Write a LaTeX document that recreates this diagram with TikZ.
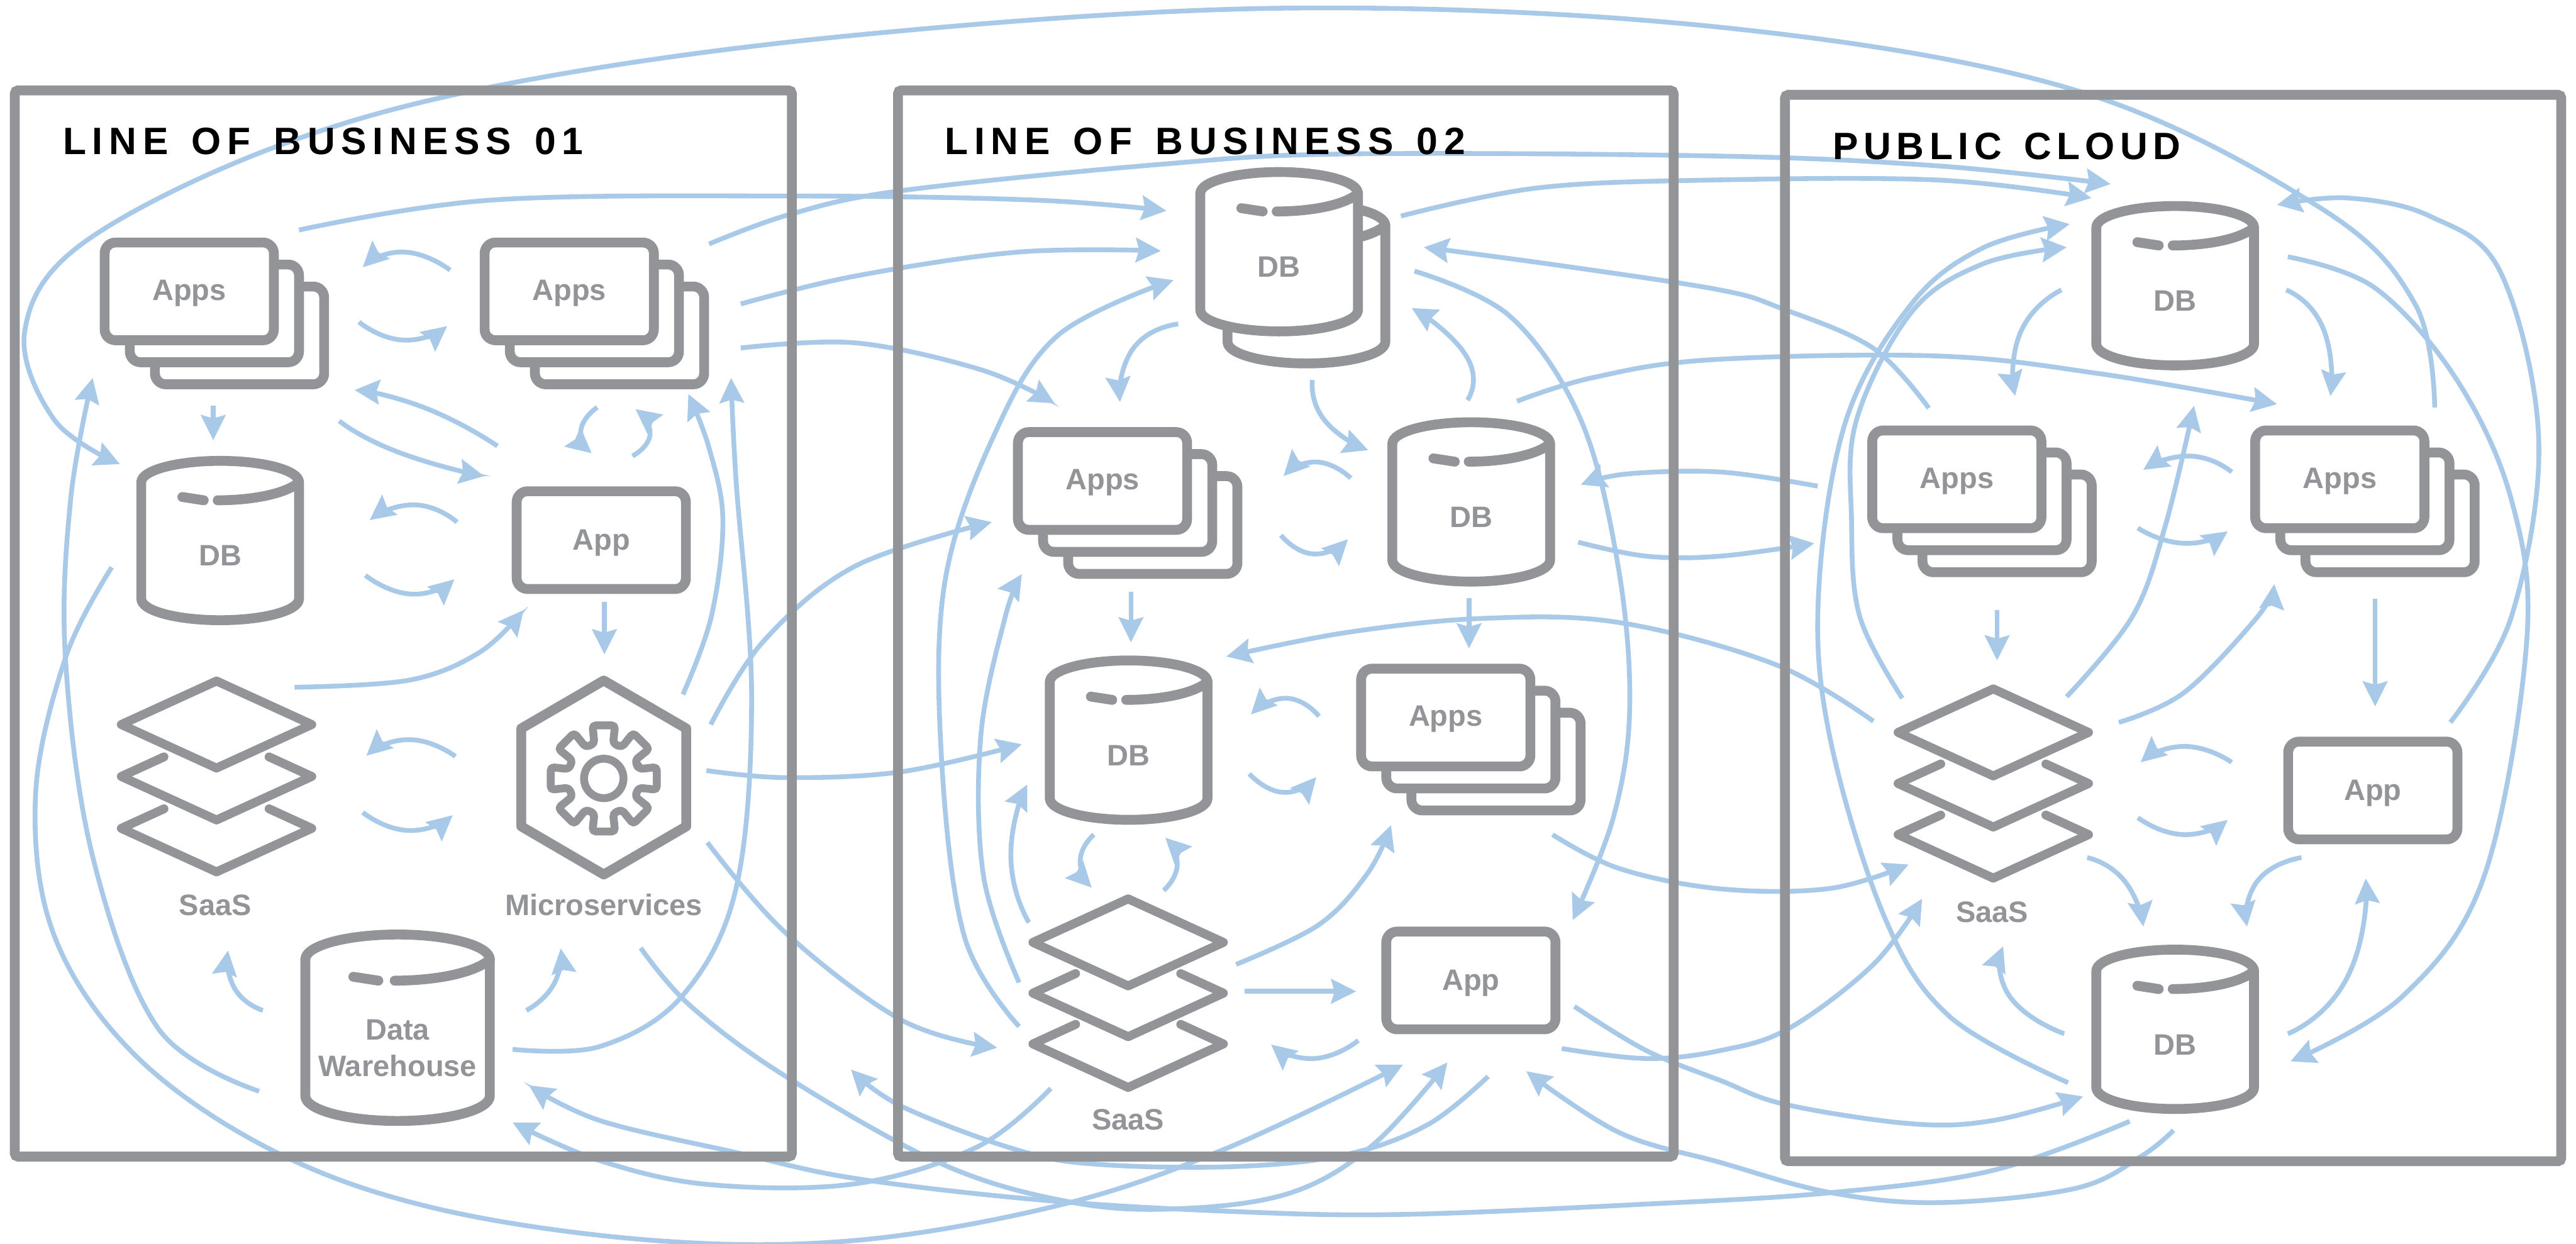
\documentclass[tikz,border=0pt]{standalone}
\usepackage{fontspec}
\setmainfont{Liberation Sans}
\newfontfamily\titlefont[LetterSpace=16,WordSpace=1.4]{Liberation Sans}
\newfontfamily\titlefontb[LetterSpace=14,WordSpace=1.4]{Liberation Sans}
\usetikzlibrary{arrows.meta}
\definecolor{gr}{HTML}{929497}
\definecolor{bl}{HTML}{A9C9E8}
\tikzset{
  flow/.style={draw=bl,line width=1.45pt,-{Stealth[length=7.6pt,width=7.4pt,inset=1pt]}},
  frameline/.style={draw=gr,line width=3pt,rounded corners=1pt},
  ico/.style={draw=gr,line width=3pt,fill=white,line join=round},
  lab/.style={text=gr,font=\fontsize{9}{9}\selectfont\bfseries,anchor=base,inner sep=0pt},
  ttl/.style={text=black,font=\fontsize{11.6}{12}\titlefont\bfseries,anchor=base west,inner sep=0pt},
  ttlb/.style={text=black,font=\fontsize{11.6}{12}\titlefontb\bfseries,anchor=base west,inner sep=0pt}
}
\newcount\lkn
\newcommand\lk[3]{\global\advance\lkn by 1
  \coordinate (s\the\lkn) at (#1); \coordinate (e\the\lkn) at (#3);
  \draw[flow] plot[smooth,tension=.6] coordinates {(s\the\lkn) #2 (e\the\lkn)};}
\newcommand\la[3]{\global\advance\lkn by 1
  \coordinate (s\the\lkn) at (#1); \coordinate (e\the\lkn) at (#3);
  \draw[flow] plot[smooth,tension=1] coordinates {(s\the\lkn) #2 (e\the\lkn)};}
\newcommand\apprect{\draw[ico,rounded corners=3.3pt] (0,0) rectangle (103,59.5);}
% #1 node name, #2 x, #3 y
\newcommand\appstack[3]{\begin{scope}[shift={(#2,#3)}]
  \begin{scope}[shift={(30.6,26.8)}]\apprect\end{scope}
  \begin{scope}[shift={(15.3,13.4)}]\apprect\end{scope}
  \apprect
  \node[lab] (#1) at (51.5,35.1) {Apps};
\end{scope}}
\newcommand\appone[3]{\begin{scope}[shift={(#2,#3)}]
  \apprect
  \node[lab] (#1) at (51.5,35.8) {App};
\end{scope}}
\newcommand\cylshape{
  \draw[ico] (-48,13) .. controls (-48,5.8) and (-26.5,0) .. (0,0) .. controls (26.5,0) and (48,5.8) .. (48,13)
    -- (48,84) .. controls (48,91.2) and (26.5,97) .. (0,97) .. controls (-26.5,97) and (-48,91.2) .. (-48,84) -- cycle;
  \draw[ico,fill=none,line cap=round] (48,13) .. controls (40,20) and (20,24) .. (-1.5,24);
  \draw[ico,fill=none,line cap=round] (-23,22) -- (-10,24);
}
\newcommand\cyl[3]{\begin{scope}[shift={(#2,#3)}]
  \cylshape
  \node[lab] (#1) at (0,64) {DB};
\end{scope}}
% #1 name, #2 cx, #3 cy of top layer, #4 spacing
\newcommand\saas[4]{\begin{scope}[shift={(#2,#3)}]
  \draw[ico,fill=none,line width=2.7pt] (-58,0) -- (0,-26.5) -- (58,0) -- (0,26.5) -- cycle;
  \draw[ico,fill=none,line width=2.7pt,line cap=round] (-32,#4-11.9) -- (-58,#4) -- (0,#4+26.5) -- (58,#4) -- (32,#4-11.9);
  \draw[ico,fill=none,line width=2.7pt,line cap=round] (-32,2*#4-11.9) -- (-58,2*#4) -- (0,2*#4+26.5) -- (58,2*#4) -- (32,2*#4-11.9);
\end{scope}}
\begin{document}
\begin{tikzpicture}[x=.5pt,y=-.5pt]
\useasboundingbox (0,0) rectangle (1568,757);
\fill[white] (0,0) rectangle (1568,757);
% ---------- connectors : line of business 01
\la{274,164.4}{(245.7,153.4)}{220.8,162.7}
\la{218.5,196}{(245.7,207)}{272.2,198.5}
\lk{129.8,247}{}{129.8,267.9}
\la{302.8,271.5}{(259,248.4)}{215.8,237.4}
\la{206.5,256.2}{(242.4,275.2)}{294.8,289.8}
\la{363.5,247.9}{(353.6,261.8)}{360.2,275.9}
\la{385,277.6}{(395.7,264.2)}{386.8,249}
\la{278.2,317.8}{(252.3,307.3)}{225,316.6}
\la{222.4,350.2}{(250.7,361.6)}{276.6,352.6}
\lk{182,140}{(298.8,121.8) (481.4,119.3) (630.3,121.8)}{710,128.3}
\lk{431.6,148.5}{(481.4,130.3) (549,116) (706.6,100) (819,93.7) (1047,95) (1180,101)}{1284.7,112}
\lk{450.9,185}{(520.7,168) (620,153.4)}{706.6,152.7}
\lk{450.9,211.8}{(520.7,208.7) (597,225)}{641.9,245.5}
\lk{1482,248}{(1470,185) (1412.5,126.6) (1263,54.8) (1047.3,16.6) (786.3,4.9) (520.7,21.4) (308.8,51) (166,90) (49.8,148.5) (15,202) (33.2,255.7)}{73,282.5}
\lk{157.7,664.2}{(96.3,626) (56.4,521.3) (39.8,400) (43,304)}{56.4,230}
\lk{68,345.3}{(40,400) (21.6,484.8) (33.2,570) (83,643) (166,700.3) (265.6,735.6) (398,755) (520.7,755) (647,733) (746.5,699)}{854,648}
\lk{390,577}{(420,612) (478,655) (574,708.8) (653.5,732) (720,735.6) (786.3,725.8) (836,696.6)}{881,646.7}
\lk{1296.3,682.5}{(1213,712.4) (1113.7,726) (1000,733) (852.7,739.2) (753,737.5) (637,730.7) (520.7,717.3) (448,701.5) (365,682)}{322,660.6}
\lk{639.6,662.5}{(595,698) (520.7,720.5) (431.6,721) (365,706.4)}{312,683.2}
\lk{1323,688}{(1303,704) (1263,723.4) (1180,732) (1113.7,725.8) (1047.3,707.6) (985.5,689.3)}{929,652}
\lk{905.8,655.2}{(869.3,684.4) (819.5,702.7) (753,710) (670,708.8) (620.3,700.3) (549,673.5)}{518,651}
\lk{432.6,441}{(465,390) (520.7,344.5)}{603.7,317.8}
\lk{430,469}{(478,473.3) (549,469.7)}{622,453}
\lk{415.7,422.7}{(433,375.2) (440,316.5) (431.6,272.7)}{419,239.8}
\lk{312,638.7}{(365,637) (415,606.5) (448,540.8) (457.5,424) (448,292)}{445,230}
\lk{179.3,418.3}{(249,414) (292,397)}{318.7,371.3}
\lk{367.9,366.5}{}{367.9,398.3}
\la{277.2,460.4}{(249,450.2)}{223,460}
\la{220.8,494.5}{(249,505.5)}{275.6,496.2}
\la{160,615}{(142.8,601.6)}{138.8,578.5}
\la{320.4,615}{(337,599.2)}{341.3,577.3}
\lk{430.6,512.8}{(478,567.6) (549,621)}{607,637.7}
% ---------- connectors : line of business 02
\la{717.2,197.2}{(690,211.8)}{681.7,244.7}
\lk{620.3,624.8}{(587,570) (573,460) (575,355) (603.7,267.9) (643.5,204.5)}{714.3,170.5}
\lk{620.3,598}{(598.7,533.5) (597,448) (612,375)}{622,349.4}
\la{626.3,561.5}{(615.3,521.3)}{625.3,477.5}
\lk{688.4,360.4}{}{688.4,391}
\la{665.8,508}{(657.5,523.7)}{664.5,540.3}
\la{708.3,542}{(716.6,526.2)}{709.3,509.9}
\la{802.9,436}{(783,425)}{761.4,434.9}
\la{760.4,471}{(781.3,482.3)}{801.2,473}
\lk{752.4,587}{(803,562.7) (832.8,531)}{846.7,502.3}
\lk{757.4,603.4}{}{825.5,603.4}
\la{826.8,633.3}{(799.6,644.3)}{773.7,635.8}
\la{798.9,231.3}{(806.2,255.7)}{832.8,274}
\la{893.2,243.5}{(892.5,216.7)}{859.3,187.5}
\la{822.2,291}{(801.2,281.2)}{781.3,289.8}
\la{779.7,325.8}{(799.6,337.2)}{820.5,328.2}
\lk{894.2,364}{}{894.2,394.7}
\lk{861,165}{(919,192.4) (962.3,255.7) (985,345) (992,430) (982.2,497)}{957.3,560}
\lk{852.7,131.5}{(935.7,114.4) (1041,109.6) (1180,109.6)}{1273,120.5}
\lk{1174,248.4}{(1140,211.8) (1083.8,187.5) (1047,176.5) (952.3,162)}{866.7,150.5}
\lk{923.4,244.2}{(968.9,230) (1041,219) (1180,216.7) (1279.7,227.7)}{1386,246}
\lk{1106.4,295.9}{(1047.3,287.3) (990,288.5)}{962.3,295}
\lk{960.6,330}{(1002,338.5) (1047.3,338.5)}{1104.4,330.7}
\lk{1140.3,439}{(1080.5,404.4) (985.5,378.9) (902.5,376.4) (819.5,385)}{746.5,399.6}
\lk{945,508}{(985.5,528.6) (1047,541) (1113.7,540.8)}{1161.8,526.2}
\lk{950.6,638.2}{(1002,644.3) (1047.3,639.4) (1088.8,626) (1140.3,587)}{1170,547}
\lk{958.3,612.6}{(1002,639.4) (1047.3,657.7) (1087,672.3) (1163.5,684) (1213.3,682)}{1268,667.4}
% ---------- connectors : public cloud
\lk{1258.8,659}{(1186.7,618.7) (1147,558) (1113.7,448.2) (1107,360) (1123.7,255.7) (1163.5,185) (1206.7,151)}{1259.8,136.4}
\lk{1157.9,425}{(1132,375.2) (1127,316.5) (1130,255.7) (1163.5,190) (1206.7,160.7)}{1258,150.5}
\la{1254.8,176.5}{(1230,202)}{1226.6,241}
\la{1391.6,176.5}{(1414,199.7)}{1418.5,241}
\lk{1392.6,156.3}{(1445.7,175.3) (1495.5,231.3) (1528.7,304.4) (1538,390) (1512,533.5) (1462.3,606.5)}{1394.2,646}
\lk{1491.5,439.7}{(1528.7,375.2) (1545.3,267.9) (1522,165.6) (1478.9,131.5) (1429,120.5)}{1386,124.7}
\lk{1258,424}{(1298,375.2) (1318,320)}{1335.5,247}
\lk{1289.7,439.7}{(1329.5,421.5) (1374.3,375.2)}{1384.3,355.5}
\la{1358.4,287.3}{(1332.8,277.6)}{1304.6,286}
\la{1301.3,321.4}{(1329.5,330.7)}{1356,323.4}
\lk{1215.6,371.3}{}{1215.6,402}
\lk{1445.7,364.5}{}{1445.7,430}
\la{1358.4,464}{(1329.5,454.3)}{1303,464}
\la{1301.3,497.7}{(1329.5,508)}{1356,499}
\la{1270.4,522}{(1293,536)}{1304.6,564}
\la{1400.9,522}{(1374.3,536)}{1367.7,564}
\la{1392.6,629.2}{(1429,594.4)}{1440,534.7}
\la{1256.5,629.2}{(1223.3,606.5)}{1219.3,576}
% ---------- frames
\draw[frameline] (9,55) rectangle (482,704);
\draw[frameline] (546.6,55) rectangle (1018.7,704);
\draw[frameline] (1086.5,57.7) rectangle (1559,706.8);
\node[ttl] (t1) at (38,94) {LINE OF BUSINESS 01};
\node[ttl] (t2) at (574.8,94) {LINE OF BUSINESS 02};
\node[ttlb] (t3) at (1115.4,97) {PUBLIC CLOUD};
% ---------- icons : line of business 01
\appstack{a1}{63.7}{147.6}
\appstack{a2}{295}{147.6}
\cyl{d1}{134}{280.5}
\appone{p1}{314.5}{299}
\saas{s1}{131.8}{441}{31.6}
\node[lab] (s1lab) at (131,557.3) {SaaS};
\begin{scope}[shift={(367.5,473.8)}]
  \draw[ico,fill=none] (0,-59.6) -- (50.2,-30.4) -- (50.2,29.2) -- (0,58.5) -- (-50.2,29.2) -- (-50.2,-30.4) -- cycle;
  \draw[draw=gr,line width=2.4pt,line join=round,rounded corners=1pt]
    (-15:22) \foreach \a in {0,45,...,315} { -- (\a-15:22) -- (\a-12:33) -- (\a+12:33) -- (\a+15:22)} -- cycle;
  \draw[draw=gr,line width=2.4pt] (0,0) circle[radius=12*.5pt];
\end{scope}
\node[lab] (m1lab) at (367.5,557.3) {Microservices};
\begin{scope}[shift={(242,568.8)},scale=1.17]
  \cylshape
  \node[lab,font=\fontsize{9}{9}\selectfont\bfseries] (w1a) at (0,54.7) {Data};
  \node[lab,font=\fontsize{9}{9}\selectfont\bfseries] (w1b) at (0,73.8) {Warehouse};
\end{scope}
% ---------- icons : line of business 02
\begin{scope}[shift={(795.2,124.2)}]\cylshape\end{scope}
\cyl{d2}{778.6}{104.7}
\appstack{a3}{619.6}{263}
\cyl{d3}{895.5}{257}
\cyl{d4}{687}{402}
\appstack{a4}{828.5}{407}
\saas{s2}{686.7}{573.6}{30.9}
\node[lab] (s2lab) at (686.7,687.6) {SaaS};
\appone{p2}{843.8}{567}
% ---------- icons : public cloud
\cyl{d5}{1324}{125.4}
\appstack{a5}{1139.6}{262}
\appstack{a6}{1372.7}{262}
\saas{s3}{1213.3}{445.8}{31.1}
\node[lab] (s3lab) at (1212.6,561.5) {SaaS};
\appone{p3}{1392.8}{451.4}
\cyl{d6}{1324}{578}
\end{tikzpicture}
\end{document}
